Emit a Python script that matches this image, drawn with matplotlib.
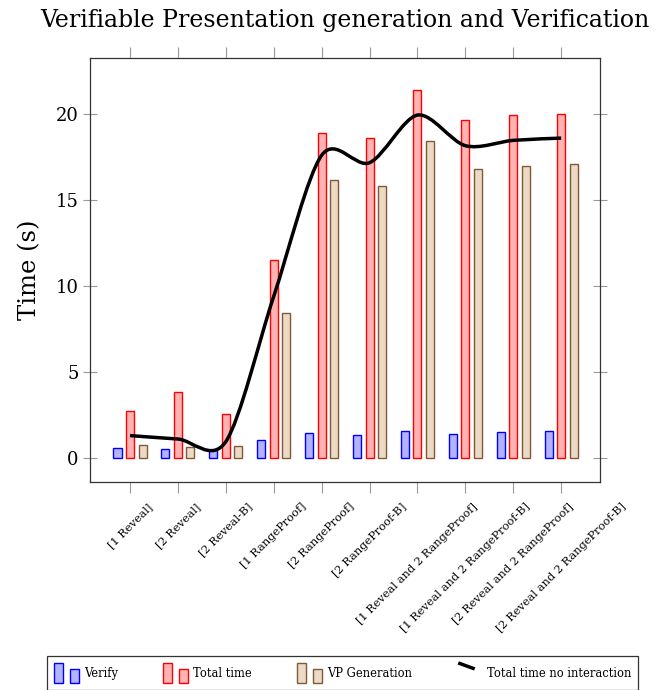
import numpy as np
import matplotlib.pyplot as plt
from matplotlib.patches import Rectangle
from matplotlib.lines import Line2D
from matplotlib.path import Path
from matplotlib.patches import PathPatch
from matplotlib.legend_handler import HandlerBase

plt.rcParams['font.family'] = ['DejaVu Serif']

categories = ["[1 Reveal]", "[2 Reveal]", "[2 Reveal-B]", "[1 RangeProof]",
              "[2 RangeProof]", "[2 RangeProof-B]", "[1 Reveal and 2 RangeProof]",
              "[1 Reveal and 2 RangeProof-B]", "[2 Reveal and 2 RangeProof]",
              "[2 Reveal and 2 RangeProof-B]"]
verify = [0.6, 0.5, 0.46, 1.06, 1.45, 1.35, 1.55, 1.4, 1.5, 1.55]
total_time = [2.73, 3.82, 2.56, 11.5, 18.88, 18.62, 21.38, 19.67, 19.96, 20.02]
vp_generation = [0.76, 0.66, 0.7, 8.43, 16.14, 15.83, 18.41, 16.8, 17.0, 17.09]
no_interaction = [1.3, 1.1, 0.95, 9.4, 17.6, 17.17, 19.94, 18.16, 18.47, 18.6]


def smooth_path(x, y, k=0.2):
    # cubic bezier through the points, tangents from the neighbours
    pts = np.column_stack([x, y]).astype(float)
    n = len(pts)
    verts = [pts[0]]
    codes = [Path.MOVETO]
    for i in range(n - 1):
        p0 = pts[max(i - 1, 0)]
        p1 = pts[i]
        p2 = pts[i + 1]
        p3 = pts[min(i + 2, n - 1)]
        verts += [p1 + k * (p2 - p0), p2 - k * (p3 - p1), p2]
        codes += [Path.CURVE4] * 3
    return Path(verts, codes)


class BarPairHandler(HandlerBase):
    def create_artists(self, legend, orig_handle, xdescent, ydescent,
                       width, height, fontsize, trans):
        p = orig_handle.patches[0]
        fc, ec = p.get_facecolor(), p.get_edgecolor()
        w = width * 0.36
        r1 = Rectangle((-xdescent, -ydescent), w, height, fc=fc, ec=ec, lw=1, transform=trans)
        r2 = Rectangle((-xdescent + width * 0.64, -ydescent), w, height * 0.72,
                       fc=fc, ec=ec, lw=1, transform=trans)
        return [r1, r2]


class SlantLineHandler(HandlerBase):
    def create_artists(self, legend, orig_handle, xdescent, ydescent,
                       width, height, fontsize, trans):
        l = Line2D([-xdescent + 0.07 * width, -xdescent + 0.72 * width],
                   [-ydescent + height, -ydescent + 0.7 * height],
                   color='black', lw=2.5, solid_capstyle='butt', transform=trans)
        return [l]


fig = plt.figure(figsize=(6.7, 6.9), dpi=100)
ax = fig.add_axes([90 / 670, 1 - 482 / 690, 510 / 670, 424 / 690])

x = np.arange(len(categories))
bw = 0.167
off = 0.261
b1 = ax.bar(x - off, verify, bw, color='#b3b3ff', edgecolor='blue', lw=1)
b2 = ax.bar(x, total_time, bw, color='#ffb3b3', edgecolor='red', lw=1)
b3 = ax.bar(x + off, vp_generation, bw, color='#ecd9c6', edgecolor='#7f5a35', lw=1)

path = smooth_path(x, no_interaction, k=0.15)
ax.add_patch(PathPatch(path, fc='none', ec='black', lw=2.5))
line = Line2D([], [], color='black', lw=2.5)

ax.set_xlim(-0.835, 9.81)
ax.set_ylim(-1.4, 23.26)
ax.set_yticks([0, 5, 10, 15, 20])
ax.set_xticks(x)
ax.set_xticklabels(categories, rotation=45, ha='center', va='top', fontsize=8.2)
ax.tick_params(axis='x', direction='out', length=8, width=0.8, color='#999999',
               top=True, bottom=True, pad=6)
ax.tick_params(axis='y', direction='inout', length=9.5, width=0.8, color='#999999',
               left=True, right=True, labelsize=13)
for s in ax.spines.values():
    s.set_color('#333333')
    s.set_linewidth(0.9)

ax.set_ylabel("Time (s)", fontsize=17.5, labelpad=10)
ax.set_title("Verifiable Presentation generation and Verification", fontsize=17, pad=22)

fig.legend([b1, b2, b3, line], ["Verify", "Total time", "VP Generation", "Total time no interaction"],
           handler_map={b1: BarPairHandler(), b2: BarPairHandler(), b3: BarPairHandler(),
                        line: SlantLineHandler()},
           loc='upper left', bbox_to_anchor=(47 / 670, 1 - 656 / 690), borderaxespad=0,
           ncol=4, fontsize=8.3, handlelength=2.2, handleheight=2.3, handletextpad=0.45,
           columnspacing=3.85, borderpad=0.6, fancybox=False, edgecolor='#333333',
           framealpha=1)
fig.legends[0].get_frame().set_linewidth(0.9)

fig.savefig("out.png", dpi=100)
